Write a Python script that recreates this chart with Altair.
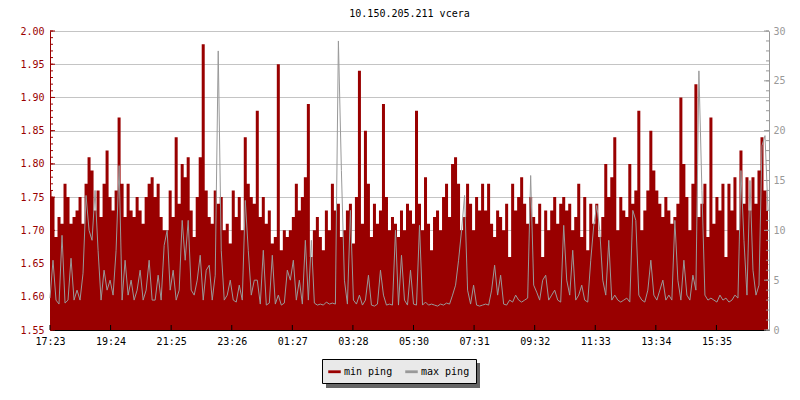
import altair as alt
import pandas as pd

TITLE = "10.150.205.211 vcera"
X_TICK_LABELS = ["17:23", "19:24", "21:25", "23:26", "01:27", "03:28",
                 "05:30", "07:31", "09:32", "11:33", "13:34", "15:35"]
X_TICK_MINUTES = [0, 121, 242, 363, 484, 605, 726, 847, 968, 1089, 1210, 1331]
LEFT_TICKS = [1.55, 1.60, 1.65, 1.70, 1.75, 1.80, 1.85, 1.90, 1.95, 2.00]
RIGHT_TICKS = [0, 5, 10, 15, 20, 25, 30]
SERIES = ["min ping", "max ping"]
STEP_MIN = 6

min_ping = [
    1.76, 1.75, 1.69, 1.72, 1.71, 1.77, 1.75, 1.71, 1.72, 1.73,
    1.75, 1.71, 1.77, 1.81, 1.79, 1.73, 1.76, 1.72, 1.77, 1.82,
    1.75, 1.73, 1.76, 1.87, 1.77, 1.72, 1.77, 1.73, 1.72, 1.75,
    1.73, 1.71, 1.75, 1.77, 1.78, 1.75, 1.77, 1.72, 1.70, 1.70,
    1.76, 1.72, 1.84, 1.74, 1.80, 1.78, 1.81, 1.73, 1.69, 1.75,
    1.81, 1.98, 1.76, 1.72, 1.71, 1.76, 1.74, 1.75, 1.70, 1.71,
    1.68, 1.76, 1.72, 1.75, 1.70, 1.84, 1.77, 1.75, 1.74, 1.88,
    1.72, 1.75, 1.71, 1.73, 1.68, 1.69, 1.95, 1.67, 1.70, 1.69,
    1.70, 1.72, 1.77, 1.73, 1.75, 1.78, 1.89, 1.66, 1.70, 1.72,
    1.69, 1.67, 1.73, 1.70, 1.77, 1.73, 1.74, 1.69, 1.70, 1.73,
    1.74, 1.68, 1.75, 1.94, 1.71, 1.85, 1.77, 1.69, 1.74, 1.71,
    1.73, 1.89, 1.75, 1.70, 1.72, 1.71, 1.69, 1.73, 1.70, 1.74,
    1.73, 1.71, 1.88, 1.74, 1.70, 1.78, 1.71, 1.67, 1.72, 1.73,
    1.70, 1.75, 1.77, 1.72, 1.80, 1.81, 1.77, 1.70, 1.72, 1.77,
    1.74, 1.70, 1.75, 1.73, 1.77, 1.73, 1.77, 1.71, 1.69, 1.73,
    1.72, 1.70, 1.74, 1.66, 1.77, 1.73, 1.75, 1.78, 1.74, 1.71,
    1.75, 1.72, 1.71, 1.74, 1.66, 1.73, 1.70, 1.73, 1.75, 1.71,
    1.74, 1.75, 1.73, 1.74, 1.70, 1.72, 1.77, 1.69, 1.75, 1.67,
    1.74, 1.71, 1.74, 1.69, 1.72, 1.80, 1.75, 1.78, 1.84, 1.70,
    1.75, 1.73, 1.72, 1.80, 1.74, 1.76, 1.88, 1.70, 1.73, 1.76,
    1.85, 1.79, 1.76, 1.74, 1.72, 1.75, 1.73, 1.71, 1.72, 1.74,
    1.90, 1.80, 1.75, 1.70, 1.77, 1.92, 1.72, 1.74, 1.77, 1.69,
    1.87, 1.71, 1.75, 1.73, 1.77, 1.66, 1.77, 1.73, 1.78, 1.70,
    1.82, 1.74, 1.78, 1.73, 1.78, 1.74, 1.79, 1.84, 1.76, 1.73,
]

max_ping = [
    3.2, 7, 3, 2.6, 9.5, 2.7, 3, 7.2, 3, 4,
    3, 5.7, 13.5, 10, 9, 14, 8, 3, 6, 4,
    5, 3.5, 8, 16.5, 3, 7, 3.5, 5, 3, 4,
    6, 3, 4, 7, 3, 3, 5.5, 3, 8.5, 10,
    4, 6, 3, 4, 11, 7, 11, 4, 3.5, 5,
    7.5, 3, 6, 6.5, 3, 5.5, 28, 8, 3, 3.5,
    5, 3, 2.8, 4.5, 3, 13, 8, 3.5, 5, 5,
    2.6, 8, 2.5, 2.7, 7.5, 2.6, 3.5, 2.5, 2.7, 6,
    5, 7, 3, 5, 2.6, 9, 3, 9, 2.7, 2.5,
    2.6, 2.5, 2.8, 2.6, 2.7, 2.6, 29, 16, 5, 2.6,
    12, 3, 2.6, 3.5, 2.5, 3, 5.5, 2.5, 2.4, 2.6,
    6, 3.5, 2.5, 2.6, 2.5, 10, 2.5, 7.5, 3, 2.5,
    6, 2.6, 2.5, 10.5, 2.5, 2.8, 2.5, 2.6, 2.5, 2.4,
    2.6, 2.5, 2.7, 2.6, 3.5, 4.5, 7, 10, 13.5, 4,
    2.6, 4.5, 2.5, 2.4, 2.5, 2.6, 2.5, 4, 6.5, 3.5,
    5.5, 2.6, 2.5, 3, 2.8, 3.5, 3, 2.8, 3, 3.2,
    15.5, 4.5, 3.8, 3, 5, 5.5, 3, 3.5, 4, 3,
    2.8, 10.5, 5, 3.5, 8, 3, 3.5, 4.5, 3, 2.8,
    7, 10.5, 12.5, 10, 5, 3.5, 9, 3, 3.5, 3,
    2.8, 3, 3.2, 2.8, 12, 11, 3.5, 3, 2.8, 4,
    7, 3.5, 3, 4, 5, 3, 3.5, 3, 11, 5,
    3, 7, 3.5, 3, 5.5, 4, 26, 14, 3.5, 3,
    3.2, 3, 2.8, 3.5, 3, 3.2, 2.8, 3, 3.5, 3.2,
    16, 9, 3.5, 15, 6, 3.5, 4.5, 18.5, 19.5, 12,
]

n = min(len(min_ping), len(max_ping))
df = pd.DataFrame({
    "t": [i * STEP_MIN for i in range(n)],
    "minp": min_ping[:n],
    "maxp": max_ping[:n],
})

RED = "#990000"
GRAY = "#999999"
FONT = "DejaVu Sans Mono"
W, H = 719, 299

left_minor = [round(1.55 + k * 0.01, 2) for k in range(46)]
right_minor = list(range(31))

sx = alt.Scale(domain=[0, 1436], nice=False, zero=False)
sL = alt.Scale(domain=[1.55, 2.0], nice=False, zero=False)
sR = alt.Scale(domain=[0, 30], nice=False, zero=False)

label_expr = "[" + ",".join("'%s'" % s for s in X_TICK_LABELS) + "][round(datum.value/121)]"

axX = alt.Axis(values=X_TICK_MINUTES, labelExpr=label_expr, title=None, grid=False,
               ticks=False, domainColor="black", labelColor="black", labelFont=FONT,
               labelFontSize=10, labelPadding=6, labelFlush=False)
axL = alt.Axis(values=LEFT_TICKS, format=".2f", title=None, grid=True, gridColor="#c4c4c4",
               ticks=False, domainColor=RED, labelColor=RED, labelFont=FONT,
               labelFontSize=10, labelPadding=6)
axR = alt.Axis(values=RIGHT_TICKS, orient="right", title=None, grid=False, ticks=False,
               domainColor=GRAY, labelColor=GRAY, labelFont=FONT, labelFontSize=10,
               labelPadding=4)


def X(f):
    return alt.X(f, type="quantitative", scale=sx, axis=axX)


def YL(f):
    return alt.Y(f, type="quantitative", scale=sL, axis=axL)


def YR(f):
    return alt.Y(f, type="quantitative", scale=sR, axis=axR)


cscale = alt.Scale(domain=SERIES, range=[RED, GRAY])
legend = alt.Legend(
    title=None, orient="none", legendX=272, legendY=328, direction="horizontal",
    fillColor="#e9e9e9", strokeColor="black", padding=6, labelFont=FONT,
    labelFontSize=10, labelColor="black", labelOffset=3, columnPadding=10,
    symbolType="M-1,-0.12L1,-0.12L1,0.12L-1,0.12Z", symbolSize=121,
    symbolStrokeWidth=1.5,
)

area = alt.Chart(df).transform_calculate(series="'min ping'").mark_area(
    interpolate="step"
).encode(
    x=X("t"), y=YL("minp"), y2=alt.datum(1.55),
    color=alt.Color("series:N", scale=cscale, legend=legend),
)

line = alt.Chart(df).transform_calculate(series="'max ping'").mark_line(
    interpolate="linear", strokeWidth=1
).encode(
    x=X("t"), y=YR("maxp"),
    color=alt.Color("series:N", scale=cscale, legend=legend),
)

lmin = pd.DataFrame({"v": left_minor})
lmaj = pd.DataFrame({"v": LEFT_TICKS})
rmin = pd.DataFrame({"v": right_minor})
rmaj = pd.DataFrame({"v": RIGHT_TICKS})
xmaj = pd.DataFrame({"v": X_TICK_MINUTES})

l_minor_ticks = alt.Chart(lmin).mark_rule(color=RED).encode(
    y=YL("v"), x=alt.value(0), x2=alt.value(3))
l_major_ticks = alt.Chart(lmaj).mark_rule(color=RED).encode(
    y=YL("v"), x=alt.value(0), x2=alt.value(5))
x_ticks = alt.Chart(xmaj).mark_rule(color="black").encode(
    x=X("v"), y=alt.value(H), y2=alt.value(H - 5))
r_minor_ticks = alt.Chart(rmin).mark_rule(color=GRAY).encode(
    y=YR("v"), x=alt.value(W), x2=alt.value(W - 3))
r_major_ticks = alt.Chart(rmaj).mark_rule(color=GRAY).encode(
    y=YR("v"), x=alt.value(W), x2=alt.value(W - 5))

shadow = alt.Chart(pd.DataFrame({"k": [0]})).mark_rect(color="#666666").encode(
    x=alt.value(276), x2=alt.value(276 + 154), y=alt.value(332), y2=alt.value(332 + 25))

left = alt.layer(shadow, area, l_minor_ticks, l_major_ticks, x_ticks)
right = alt.layer(line, r_minor_ticks, r_major_ticks)

chart = alt.layer(left, right).resolve_scale(y="independent").properties(
    width=W, height=H,
    title=alt.Title(TITLE, font=FONT, fontSize=10, fontWeight="normal", color="black",
                    anchor="middle", offset=7),
    autosize=alt.AutoSizeParams(type="none"),
    padding={"left": 42, "top": 23, "right": 23, "bottom": 62},
).configure_view(stroke=None)

chart.save("out.html", embed_options={"renderer": "svg", "actions": False})
